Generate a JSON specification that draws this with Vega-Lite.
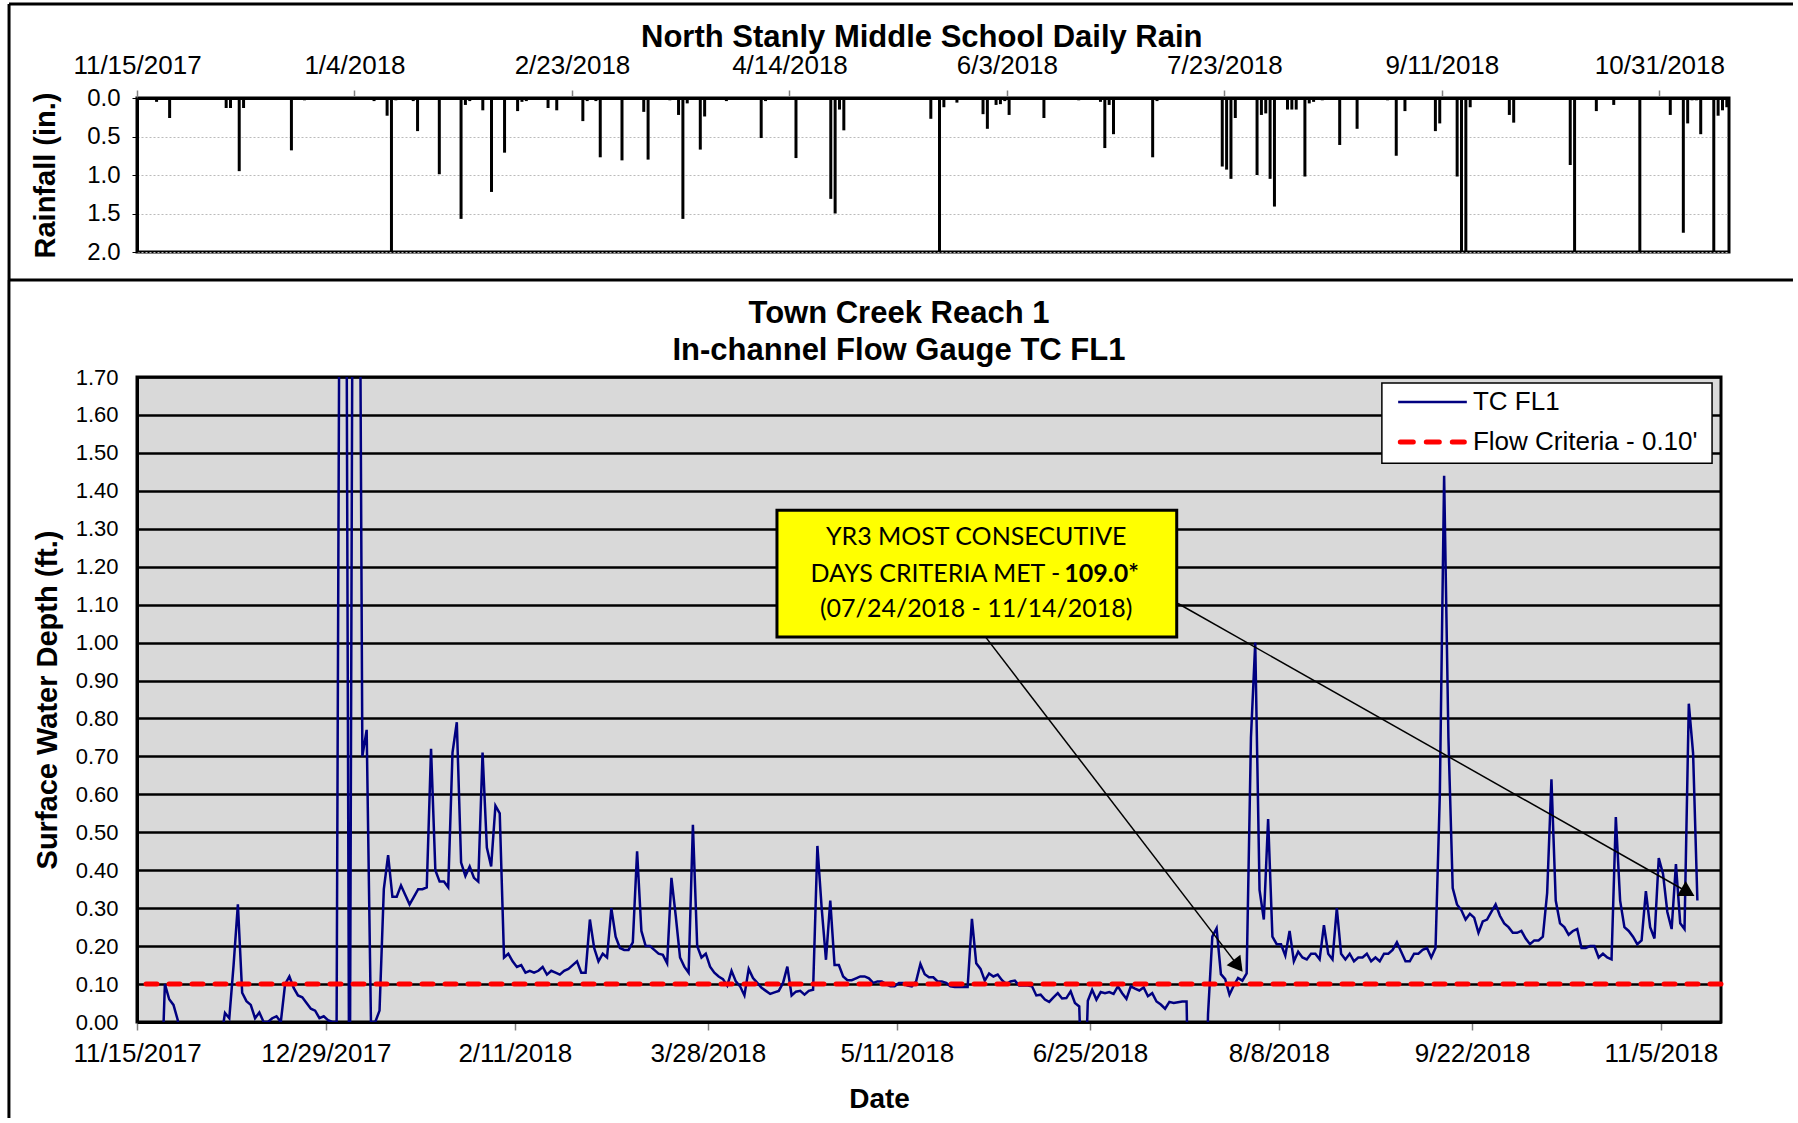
{
  "$schema": "https://vega.github.io/schema/vega-lite/v6.json",
  "background": "white",
  "padding": {"left": 5, "top": 0, "right": 0, "bottom": 0},
  "bounds": "flush",
  "spacing": 125,
  "config": {
    "font": "Liberation Sans",
    "axis": {"labelColor": "black", "titleColor": "black", "labelFont": "Liberation Sans", "titleFont": "Liberation Sans", "labelFlush": false, "labelOverlap": false}
  },
  "vconcat": [
    {
      "width": 1592,
      "height": 154,
      "view": {"fill": "white", "stroke": "black", "strokeWidth": 3},
      "resolve": {"axis": {"y": "independent"}},
      "layer": [
        {
          "data": {
            "format": {"parse": {"d": "date:'%Y-%m-%d'"}},
            "values": [
              {"d": "2017-11-19", "r": 0.05}, {"d": "2017-11-22", "r": 0.26}, {"d": "2017-12-05", "r": 0.13}, {"d": "2017-12-06", "r": 0.13},
              {"d": "2017-12-08", "r": 0.95}, {"d": "2017-12-09", "r": 0.13}, {"d": "2017-12-20", "r": 0.68}, {"d": "2017-12-23", "r": 0.03},
              {"d": "2018-01-08", "r": 0.04}, {"d": "2018-01-11", "r": 0.23}, {"d": "2018-01-12", "r": 2.3}, {"d": "2018-01-13", "r": 0.03},
              {"d": "2018-01-17", "r": 0.04}, {"d": "2018-01-18", "r": 0.43}, {"d": "2018-01-23", "r": 0.99}, {"d": "2018-01-28", "r": 1.57},
              {"d": "2018-01-29", "r": 0.09}, {"d": "2018-01-30", "r": 0.04}, {"d": "2018-02-02", "r": 0.16}, {"d": "2018-02-04", "r": 1.22},
              {"d": "2018-02-07", "r": 0.71}, {"d": "2018-02-10", "r": 0.17}, {"d": "2018-02-11", "r": 0.05}, {"d": "2018-02-12", "r": 0.04},
              {"d": "2018-02-17", "r": 0.13}, {"d": "2018-02-19", "r": 0.16}, {"d": "2018-02-25", "r": 0.30}, {"d": "2018-02-26", "r": 0.04},
              {"d": "2018-02-28", "r": 0.04}, {"d": "2018-03-01", "r": 0.77}, {"d": "2018-03-06", "r": 0.81}, {"d": "2018-03-11", "r": 0.18},
              {"d": "2018-03-12", "r": 0.80}, {"d": "2018-03-17", "r": 0.03}, {"d": "2018-03-19", "r": 0.22}, {"d": "2018-03-20", "r": 1.57},
              {"d": "2018-03-21", "r": 0.07}, {"d": "2018-03-24", "r": 0.67}, {"d": "2018-03-25", "r": 0.24}, {"d": "2018-03-30", "r": 0.04},
              {"d": "2018-04-07", "r": 0.52}, {"d": "2018-04-08", "r": 0.04}, {"d": "2018-04-15", "r": 0.78}, {"d": "2018-04-23", "r": 1.31},
              {"d": "2018-04-24", "r": 1.50}, {"d": "2018-04-25", "r": 0.15}, {"d": "2018-04-26", "r": 0.42}, {"d": "2018-05-11", "r": 0.02},
              {"d": "2018-05-16", "r": 0.27}, {"d": "2018-05-18", "r": 2.3}, {"d": "2018-05-19", "r": 0.12}, {"d": "2018-05-22", "r": 0.06},
              {"d": "2018-05-28", "r": 0.21}, {"d": "2018-05-29", "r": 0.40}, {"d": "2018-05-31", "r": 0.09}, {"d": "2018-06-01", "r": 0.08},
              {"d": "2018-06-02", "r": 0.04}, {"d": "2018-06-03", "r": 0.22}, {"d": "2018-06-11", "r": 0.26}, {"d": "2018-06-14", "r": 0.02},
              {"d": "2018-06-18", "r": 0.02}, {"d": "2018-06-19", "r": 0.03}, {"d": "2018-06-24", "r": 0.05}, {"d": "2018-06-25", "r": 0.65},
              {"d": "2018-06-26", "r": 0.09}, {"d": "2018-06-27", "r": 0.47}, {"d": "2018-07-06", "r": 0.77}, {"d": "2018-07-07", "r": 0.04},
              {"d": "2018-07-22", "r": 0.89}, {"d": "2018-07-23", "r": 0.93}, {"d": "2018-07-24", "r": 1.05}, {"d": "2018-07-25", "r": 0.26},
              {"d": "2018-07-30", "r": 1.0}, {"d": "2018-07-31", "r": 0.22}, {"d": "2018-08-01", "r": 0.20}, {"d": "2018-08-02", "r": 1.05},
              {"d": "2018-08-03", "r": 1.41}, {"d": "2018-08-04", "r": 0.02}, {"d": "2018-08-06", "r": 0.15}, {"d": "2018-08-07", "r": 0.15},
              {"d": "2018-08-08", "r": 0.15}, {"d": "2018-08-10", "r": 1.02}, {"d": "2018-08-11", "r": 0.07}, {"d": "2018-08-12", "r": 0.05},
              {"d": "2018-08-14", "r": 0.03}, {"d": "2018-08-18", "r": 0.61}, {"d": "2018-08-21", "r": 0.02}, {"d": "2018-08-22", "r": 0.40},
              {"d": "2018-08-29", "r": 0.03}, {"d": "2018-08-31", "r": 0.75}, {"d": "2018-09-02", "r": 0.17}, {"d": "2018-09-09", "r": 0.43},
              {"d": "2018-09-10", "r": 0.33}, {"d": "2018-09-14", "r": 1.02}, {"d": "2018-09-15", "r": 2.3}, {"d": "2018-09-16", "r": 2.3},
              {"d": "2018-09-17", "r": 0.12}, {"d": "2018-09-26", "r": 0.22}, {"d": "2018-09-27", "r": 0.32}, {"d": "2018-10-10", "r": 0.87},
              {"d": "2018-10-11", "r": 2.3}, {"d": "2018-10-16", "r": 0.17}, {"d": "2018-10-20", "r": 0.09}, {"d": "2018-10-26", "r": 2.3},
              {"d": "2018-11-02", "r": 0.22}, {"d": "2018-11-05", "r": 1.75}, {"d": "2018-11-06", "r": 0.33}, {"d": "2018-11-07", "r": 0.03},
              {"d": "2018-11-08", "r": 0.03}, {"d": "2018-11-09", "r": 0.47}, {"d": "2018-11-12", "r": 2.3}, {"d": "2018-11-13", "r": 0.23},
              {"d": "2018-11-14", "r": 0.16}, {"d": "2018-11-15", "r": 0.12}
            ]
          },
          "mark": {"type": "rule", "color": "black", "strokeWidth": 3, "clip": true},
          "encoding": {
            "x": {
              "field": "d", "type": "temporal", "timeUnit": "yearmonthdate", "bandPosition": 0.5,
              "scale": {"domain": [{"year": 2017, "month": 11, "date": 15}, {"year": 2018, "month": 11, "date": 16}], "nice": false},
              "axis": {
                "orient": "top", "title": null, "format": "%-m/%-d/%Y", "formatType": "time",
                "values": [{"year": 2017, "month": 11, "date": 15}, {"year": 2018, "month": 1, "date": 4}, {"year": 2018, "month": 2, "date": 23}, {"year": 2018, "month": 4, "date": 14}, {"year": 2018, "month": 6, "date": 3}, {"year": 2018, "month": 7, "date": 23}, {"year": 2018, "month": 9, "date": 11}, {"year": 2018, "month": 10, "date": 31}],
                "tickCount": 20,
                "labelFontSize": 26, "labelPadding": 12, "tickSize": 8, "tickColor": "#808080", "tickWidth": 1.5,
                "domainColor": "black", "domainWidth": 3, "grid": false
              }
            },
            "y": {
              "field": "r", "type": "quantitative",
              "scale": {"domain": [0, 2], "reverse": true, "nice": false, "zero": false},
              "axis": {
                "title": "Rainfall (in.)", "titleFontSize": 29, "titleFontWeight": "bold", "titleX": -92, "titleBaseline": "middle",
                "values": [0, 0.5, 1, 1.5, 2], "tickCount": 10, "format": ".1f", "labelFontSize": 24, "labelPadding": 12,
                "tickSize": 5, "tickColor": "black", "domainColor": "black", "domainWidth": 3,
                "grid": true, "gridColor": "#BBBBBB", "gridDash": [2, 2], "gridWidth": 1
              }
            },
            "y2": {"datum": 0}
          }
        },
        {
          "data": {"values": [{}]},
          "mark": {"type": "text", "font": "Liberation Sans", "fontSize": 31, "fontWeight": "bold", "align": "center", "baseline": "middle", "color": "black"},
          "encoding": {
            "x": {"datum": {"year": 2018, "month": 5, "date": 14, "hours": 10}, "type": "temporal"},
            "y": {"datum": -0.783, "type": "quantitative", "axis": null},
            "text": {"value": "North Stanly Middle School Daily Rain"}
          }
        },
        {
          "data": {"values": [{}]},
          "mark": {"type": "rule", "color": "black", "strokeWidth": 3},
          "encoding": {
            "x": {"datum": {"year": 2017, "month": 10, "date": 16, "hours": 14}, "type": "temporal"},
            "x2": {"datum": {"year": 2018, "month": 11, "date": 30, "hours": 17}},
            "y": {"datum": -1.2208, "type": "quantitative", "axis": null}
          }
        },
        {
          "data": {"values": [{}]},
          "mark": {"type": "rule", "color": "black", "strokeWidth": 3},
          "encoding": {
            "x": {"datum": {"year": 2017, "month": 10, "date": 16, "hours": 14}, "type": "temporal"},
            "x2": {"datum": {"year": 2018, "month": 11, "date": 30, "hours": 17}},
            "y": {"datum": 2.3636, "type": "quantitative", "axis": null}
          }
        },
        {
          "data": {"values": [{}]},
          "mark": {"type": "rule", "color": "black", "strokeWidth": 3},
          "encoding": {
            "x": {"datum": {"year": 2017, "month": 10, "date": 16, "hours": 14}, "type": "temporal"},
            "y": {"datum": -1.2208, "type": "quantitative", "axis": null},
            "y2": {"datum": 2.3636}
          }
        }
      ]
    },
    {
      "width": 1584,
      "height": 645,
      "view": {"fill": "#D9D9D9", "stroke": "black", "strokeWidth": 3},
      "resolve": {"axis": {"y": "independent"}},
      "layer": [
        {
          "data": {
            "format": {"parse": {"d": "date:'%Y-%m-%d'"}},
            "values": [
              {"d": "2017-11-15", "v": -0.3}, {"d": "2017-11-16", "v": -0.3}, {"d": "2017-11-17", "v": -0.3}, {"d": "2017-11-18", "v": -0.3},
              {"d": "2017-11-19", "v": -0.3}, {"d": "2017-11-20", "v": -0.23}, {"d": "2017-11-21", "v": 0.10}, {"d": "2017-11-22", "v": 0.06},
              {"d": "2017-11-23", "v": 0.045}, {"d": "2017-11-24", "v": 0.005}, {"d": "2017-11-25", "v": -0.3}, {"d": "2017-11-26", "v": -0.3},
              {"d": "2017-11-27", "v": -0.3}, {"d": "2017-11-28", "v": -0.3}, {"d": "2017-11-29", "v": -0.3}, {"d": "2017-11-30", "v": -0.3},
              {"d": "2017-12-01", "v": -0.3}, {"d": "2017-12-02", "v": -0.3}, {"d": "2017-12-03", "v": -0.3}, {"d": "2017-12-04", "v": -0.05},
              {"d": "2017-12-05", "v": 0.024}, {"d": "2017-12-06", "v": 0.01}, {"d": "2017-12-07", "v": 0.15}, {"d": "2017-12-08", "v": 0.31},
              {"d": "2017-12-09", "v": 0.077}, {"d": "2017-12-10", "v": 0.055}, {"d": "2017-12-11", "v": 0.045}, {"d": "2017-12-12", "v": 0.01},
              {"d": "2017-12-13", "v": 0.025}, {"d": "2017-12-14", "v": 0.0}, {"d": "2017-12-15", "v": 0.0}, {"d": "2017-12-16", "v": 0.01},
              {"d": "2017-12-17", "v": 0.015}, {"d": "2017-12-18", "v": 0.0}, {"d": "2017-12-19", "v": 0.10}, {"d": "2017-12-20", "v": 0.12},
              {"d": "2017-12-21", "v": 0.09}, {"d": "2017-12-22", "v": 0.07}, {"d": "2017-12-23", "v": 0.065}, {"d": "2017-12-24", "v": 0.05},
              {"d": "2017-12-25", "v": 0.035}, {"d": "2017-12-26", "v": 0.03}, {"d": "2017-12-27", "v": 0.01}, {"d": "2017-12-28", "v": 0.015},
              {"d": "2017-12-29", "v": 0.005}, {"d": "2017-12-30", "v": 0.0}, {"d": "2017-12-31", "v": 0.0},
              {"d": "2018-01-01", "v": 3.0}, {"d": "2018-01-02", "v": 3.0}, {"d": "2018-01-03", "v": -0.5}, {"d": "2018-01-04", "v": 3.0},
              {"d": "2018-01-05", "v": 3.0}, {"d": "2018-01-06", "v": 0.70}, {"d": "2018-01-07", "v": 0.77}, {"d": "2018-01-08", "v": 0.0},
              {"d": "2018-01-09", "v": 0.0}, {"d": "2018-01-10", "v": 0.03}, {"d": "2018-01-11", "v": 0.35}, {"d": "2018-01-12", "v": 0.44},
              {"d": "2018-01-13", "v": 0.33}, {"d": "2018-01-14", "v": 0.33}, {"d": "2018-01-15", "v": 0.36}, {"d": "2018-01-16", "v": 0.335},
              {"d": "2018-01-17", "v": 0.31}, {"d": "2018-01-18", "v": 0.33}, {"d": "2018-01-19", "v": 0.35}, {"d": "2018-01-20", "v": 0.35},
              {"d": "2018-01-21", "v": 0.355}, {"d": "2018-01-22", "v": 0.72}, {"d": "2018-01-23", "v": 0.40}, {"d": "2018-01-24", "v": 0.37},
              {"d": "2018-01-25", "v": 0.37}, {"d": "2018-01-26", "v": 0.355}, {"d": "2018-01-27", "v": 0.71}, {"d": "2018-01-28", "v": 0.79},
              {"d": "2018-01-29", "v": 0.42}, {"d": "2018-01-30", "v": 0.385}, {"d": "2018-01-31", "v": 0.41},
              {"d": "2018-02-01", "v": 0.38}, {"d": "2018-02-02", "v": 0.37}, {"d": "2018-02-03", "v": 0.71}, {"d": "2018-02-04", "v": 0.46},
              {"d": "2018-02-05", "v": 0.41}, {"d": "2018-02-06", "v": 0.57}, {"d": "2018-02-07", "v": 0.55}, {"d": "2018-02-08", "v": 0.17},
              {"d": "2018-02-09", "v": 0.18}, {"d": "2018-02-10", "v": 0.16}, {"d": "2018-02-11", "v": 0.145}, {"d": "2018-02-12", "v": 0.15},
              {"d": "2018-02-13", "v": 0.13}, {"d": "2018-02-14", "v": 0.135}, {"d": "2018-02-15", "v": 0.13}, {"d": "2018-02-16", "v": 0.135},
              {"d": "2018-02-17", "v": 0.145}, {"d": "2018-02-18", "v": 0.125}, {"d": "2018-02-19", "v": 0.135}, {"d": "2018-02-20", "v": 0.13},
              {"d": "2018-02-21", "v": 0.125}, {"d": "2018-02-22", "v": 0.135}, {"d": "2018-02-23", "v": 0.14}, {"d": "2018-02-24", "v": 0.15},
              {"d": "2018-02-25", "v": 0.16}, {"d": "2018-02-26", "v": 0.13}, {"d": "2018-02-27", "v": 0.13}, {"d": "2018-02-28", "v": 0.27},
              {"d": "2018-03-01", "v": 0.195}, {"d": "2018-03-02", "v": 0.16}, {"d": "2018-03-03", "v": 0.18}, {"d": "2018-03-04", "v": 0.17},
              {"d": "2018-03-05", "v": 0.30}, {"d": "2018-03-06", "v": 0.225}, {"d": "2018-03-07", "v": 0.195}, {"d": "2018-03-08", "v": 0.19},
              {"d": "2018-03-09", "v": 0.19}, {"d": "2018-03-10", "v": 0.21}, {"d": "2018-03-11", "v": 0.45}, {"d": "2018-03-12", "v": 0.24},
              {"d": "2018-03-13", "v": 0.20}, {"d": "2018-03-14", "v": 0.20}, {"d": "2018-03-15", "v": 0.19}, {"d": "2018-03-16", "v": 0.18},
              {"d": "2018-03-17", "v": 0.177}, {"d": "2018-03-18", "v": 0.155}, {"d": "2018-03-19", "v": 0.38}, {"d": "2018-03-20", "v": 0.28},
              {"d": "2018-03-21", "v": 0.17}, {"d": "2018-03-22", "v": 0.146}, {"d": "2018-03-23", "v": 0.13}, {"d": "2018-03-24", "v": 0.52},
              {"d": "2018-03-25", "v": 0.20}, {"d": "2018-03-26", "v": 0.17}, {"d": "2018-03-27", "v": 0.18}, {"d": "2018-03-28", "v": 0.146},
              {"d": "2018-03-29", "v": 0.13}, {"d": "2018-03-30", "v": 0.12}, {"d": "2018-03-31", "v": 0.113},
              {"d": "2018-04-01", "v": 0.096}, {"d": "2018-04-02", "v": 0.135}, {"d": "2018-04-03", "v": 0.107}, {"d": "2018-04-04", "v": 0.094},
              {"d": "2018-04-05", "v": 0.07}, {"d": "2018-04-06", "v": 0.14}, {"d": "2018-04-07", "v": 0.116}, {"d": "2018-04-08", "v": 0.103},
              {"d": "2018-04-09", "v": 0.09}, {"d": "2018-04-10", "v": 0.082}, {"d": "2018-04-11", "v": 0.074}, {"d": "2018-04-12", "v": 0.078},
              {"d": "2018-04-13", "v": 0.082}, {"d": "2018-04-14", "v": 0.103}, {"d": "2018-04-15", "v": 0.146}, {"d": "2018-04-16", "v": 0.07},
              {"d": "2018-04-17", "v": 0.08}, {"d": "2018-04-18", "v": 0.082}, {"d": "2018-04-19", "v": 0.072}, {"d": "2018-04-20", "v": 0.082},
              {"d": "2018-04-21", "v": 0.085}, {"d": "2018-04-22", "v": 0.464}, {"d": "2018-04-23", "v": 0.30}, {"d": "2018-04-24", "v": 0.164},
              {"d": "2018-04-25", "v": 0.32}, {"d": "2018-04-26", "v": 0.15}, {"d": "2018-04-27", "v": 0.15}, {"d": "2018-04-28", "v": 0.12},
              {"d": "2018-04-29", "v": 0.11}, {"d": "2018-04-30", "v": 0.11},
              {"d": "2018-05-01", "v": 0.115}, {"d": "2018-05-02", "v": 0.12}, {"d": "2018-05-03", "v": 0.12}, {"d": "2018-05-04", "v": 0.115},
              {"d": "2018-05-05", "v": 0.103}, {"d": "2018-05-06", "v": 0.107}, {"d": "2018-05-07", "v": 0.107}, {"d": "2018-05-08", "v": 0.10},
              {"d": "2018-05-09", "v": 0.094}, {"d": "2018-05-10", "v": 0.094}, {"d": "2018-05-11", "v": 0.103}, {"d": "2018-05-12", "v": 0.103},
              {"d": "2018-05-13", "v": 0.096}, {"d": "2018-05-14", "v": 0.094}, {"d": "2018-05-15", "v": 0.107}, {"d": "2018-05-16", "v": 0.153},
              {"d": "2018-05-17", "v": 0.126}, {"d": "2018-05-18", "v": 0.118}, {"d": "2018-05-19", "v": 0.118}, {"d": "2018-05-20", "v": 0.107},
              {"d": "2018-05-21", "v": 0.107}, {"d": "2018-05-22", "v": 0.103}, {"d": "2018-05-23", "v": 0.094}, {"d": "2018-05-24", "v": 0.092},
              {"d": "2018-05-25", "v": 0.092}, {"d": "2018-05-26", "v": 0.092}, {"d": "2018-05-27", "v": 0.092}, {"d": "2018-05-28", "v": 0.272},
              {"d": "2018-05-29", "v": 0.155}, {"d": "2018-05-30", "v": 0.14}, {"d": "2018-05-31", "v": 0.109},
              {"d": "2018-06-01", "v": 0.128}, {"d": "2018-06-02", "v": 0.12}, {"d": "2018-06-03", "v": 0.125}, {"d": "2018-06-04", "v": 0.11},
              {"d": "2018-06-05", "v": 0.10}, {"d": "2018-06-06", "v": 0.107}, {"d": "2018-06-07", "v": 0.109}, {"d": "2018-06-08", "v": 0.096},
              {"d": "2018-06-09", "v": 0.096}, {"d": "2018-06-10", "v": 0.096}, {"d": "2018-06-11", "v": 0.094}, {"d": "2018-06-12", "v": 0.07},
              {"d": "2018-06-13", "v": 0.072}, {"d": "2018-06-14", "v": 0.059}, {"d": "2018-06-15", "v": 0.053}, {"d": "2018-06-16", "v": 0.065},
              {"d": "2018-06-17", "v": 0.076}, {"d": "2018-06-18", "v": 0.062}, {"d": "2018-06-19", "v": 0.063}, {"d": "2018-06-20", "v": 0.081},
              {"d": "2018-06-21", "v": 0.05}, {"d": "2018-06-22", "v": 0.041}, {"d": "2018-06-23", "v": -0.3}, {"d": "2018-06-24", "v": 0.056},
              {"d": "2018-06-25", "v": 0.085}, {"d": "2018-06-26", "v": 0.059}, {"d": "2018-06-27", "v": 0.079}, {"d": "2018-06-28", "v": 0.076},
              {"d": "2018-06-29", "v": 0.079}, {"d": "2018-06-30", "v": 0.074},
              {"d": "2018-07-01", "v": 0.094}, {"d": "2018-07-02", "v": 0.076}, {"d": "2018-07-03", "v": 0.061}, {"d": "2018-07-04", "v": 0.094},
              {"d": "2018-07-05", "v": 0.088}, {"d": "2018-07-06", "v": 0.083}, {"d": "2018-07-07", "v": 0.091}, {"d": "2018-07-08", "v": 0.068},
              {"d": "2018-07-09", "v": 0.076}, {"d": "2018-07-10", "v": 0.054}, {"d": "2018-07-11", "v": 0.046}, {"d": "2018-07-12", "v": 0.035},
              {"d": "2018-07-13", "v": 0.053}, {"d": "2018-07-14", "v": 0.05}, {"d": "2018-07-15", "v": 0.052}, {"d": "2018-07-16", "v": 0.054},
              {"d": "2018-07-17", "v": 0.054}, {"d": "2018-07-18", "v": -0.5}, {"d": "2018-07-19", "v": -0.5}, {"d": "2018-07-20", "v": -0.5},
              {"d": "2018-07-21", "v": -0.5}, {"d": "2018-07-22", "v": 0.02}, {"d": "2018-07-23", "v": 0.225}, {"d": "2018-07-24", "v": 0.247},
              {"d": "2018-07-25", "v": 0.126}, {"d": "2018-07-26", "v": 0.113}, {"d": "2018-07-27", "v": 0.072}, {"d": "2018-07-28", "v": 0.096},
              {"d": "2018-07-29", "v": 0.116}, {"d": "2018-07-30", "v": 0.109}, {"d": "2018-07-31", "v": 0.128},
              {"d": "2018-08-01", "v": 0.75}, {"d": "2018-08-02", "v": 1.0}, {"d": "2018-08-03", "v": 0.348}, {"d": "2018-08-04", "v": 0.27},
              {"d": "2018-08-05", "v": 0.535}, {"d": "2018-08-06", "v": 0.225}, {"d": "2018-08-07", "v": 0.205}, {"d": "2018-08-08", "v": 0.205},
              {"d": "2018-08-09", "v": 0.175}, {"d": "2018-08-10", "v": 0.24}, {"d": "2018-08-11", "v": 0.16}, {"d": "2018-08-12", "v": 0.185},
              {"d": "2018-08-13", "v": 0.17}, {"d": "2018-08-14", "v": 0.165}, {"d": "2018-08-15", "v": 0.18}, {"d": "2018-08-16", "v": 0.18},
              {"d": "2018-08-17", "v": 0.165}, {"d": "2018-08-18", "v": 0.255}, {"d": "2018-08-19", "v": 0.18}, {"d": "2018-08-20", "v": 0.165},
              {"d": "2018-08-21", "v": 0.30}, {"d": "2018-08-22", "v": 0.18}, {"d": "2018-08-23", "v": 0.165}, {"d": "2018-08-24", "v": 0.18},
              {"d": "2018-08-25", "v": 0.16}, {"d": "2018-08-26", "v": 0.17}, {"d": "2018-08-27", "v": 0.17}, {"d": "2018-08-28", "v": 0.18},
              {"d": "2018-08-29", "v": 0.16}, {"d": "2018-08-30", "v": 0.17}, {"d": "2018-08-31", "v": 0.16},
              {"d": "2018-09-01", "v": 0.18}, {"d": "2018-09-02", "v": 0.18}, {"d": "2018-09-03", "v": 0.19}, {"d": "2018-09-04", "v": 0.21},
              {"d": "2018-09-05", "v": 0.185}, {"d": "2018-09-06", "v": 0.16}, {"d": "2018-09-07", "v": 0.16}, {"d": "2018-09-08", "v": 0.18},
              {"d": "2018-09-09", "v": 0.18}, {"d": "2018-09-10", "v": 0.19}, {"d": "2018-09-11", "v": 0.195}, {"d": "2018-09-12", "v": 0.17},
              {"d": "2018-09-13", "v": 0.195}, {"d": "2018-09-14", "v": 0.6}, {"d": "2018-09-15", "v": 1.44}, {"d": "2018-09-16", "v": 0.75},
              {"d": "2018-09-17", "v": 0.353}, {"d": "2018-09-18", "v": 0.31}, {"d": "2018-09-19", "v": 0.295}, {"d": "2018-09-20", "v": 0.27},
              {"d": "2018-09-21", "v": 0.285}, {"d": "2018-09-22", "v": 0.275}, {"d": "2018-09-23", "v": 0.235}, {"d": "2018-09-24", "v": 0.265},
              {"d": "2018-09-25", "v": 0.27}, {"d": "2018-09-26", "v": 0.29}, {"d": "2018-09-27", "v": 0.31}, {"d": "2018-09-28", "v": 0.28},
              {"d": "2018-09-29", "v": 0.26}, {"d": "2018-09-30", "v": 0.25},
              {"d": "2018-10-01", "v": 0.235}, {"d": "2018-10-02", "v": 0.235}, {"d": "2018-10-03", "v": 0.24}, {"d": "2018-10-04", "v": 0.22},
              {"d": "2018-10-05", "v": 0.205}, {"d": "2018-10-06", "v": 0.215}, {"d": "2018-10-07", "v": 0.215}, {"d": "2018-10-08", "v": 0.225},
              {"d": "2018-10-09", "v": 0.34}, {"d": "2018-10-10", "v": 0.64}, {"d": "2018-10-11", "v": 0.32}, {"d": "2018-10-12", "v": 0.26},
              {"d": "2018-10-13", "v": 0.25}, {"d": "2018-10-14", "v": 0.23}, {"d": "2018-10-15", "v": 0.24}, {"d": "2018-10-16", "v": 0.245},
              {"d": "2018-10-17", "v": 0.195}, {"d": "2018-10-18", "v": 0.195}, {"d": "2018-10-19", "v": 0.2}, {"d": "2018-10-20", "v": 0.2},
              {"d": "2018-10-21", "v": 0.17}, {"d": "2018-10-22", "v": 0.18}, {"d": "2018-10-23", "v": 0.17}, {"d": "2018-10-24", "v": 0.165},
              {"d": "2018-10-25", "v": 0.54}, {"d": "2018-10-26", "v": 0.32}, {"d": "2018-10-27", "v": 0.25}, {"d": "2018-10-28", "v": 0.24},
              {"d": "2018-10-29", "v": 0.225}, {"d": "2018-10-30", "v": 0.205}, {"d": "2018-10-31", "v": 0.215},
              {"d": "2018-11-01", "v": 0.345}, {"d": "2018-11-02", "v": 0.25}, {"d": "2018-11-03", "v": 0.22}, {"d": "2018-11-04", "v": 0.432},
              {"d": "2018-11-05", "v": 0.39}, {"d": "2018-11-06", "v": 0.29}, {"d": "2018-11-07", "v": 0.245}, {"d": "2018-11-08", "v": 0.416},
              {"d": "2018-11-09", "v": 0.26}, {"d": "2018-11-10", "v": 0.245}, {"d": "2018-11-11", "v": 0.839}, {"d": "2018-11-12", "v": 0.708},
              {"d": "2018-11-13", "v": 0.32}
            ]
          },
          "mark": {"type": "line", "color": "#000080", "strokeWidth": 2.5, "clip": true},
          "encoding": {
            "x": {
              "field": "d", "type": "temporal", "timeUnit": "yearmonthdate", "bandPosition": 0.5,
              "scale": {"domain": [{"year": 2017, "month": 11, "date": 15}, {"year": 2018, "month": 11, "date": 19}], "nice": false},
              "axis": {
                "title": "Date", "titleFontSize": 28, "titleFontWeight": "bold", "titlePadding": 19, "titleX": 742,
                "format": "%-m/%-d/%Y", "formatType": "time",
                "values": [{"year": 2017, "month": 11, "date": 15}, {"year": 2017, "month": 12, "date": 29}, {"year": 2018, "month": 2, "date": 11}, {"year": 2018, "month": 3, "date": 28}, {"year": 2018, "month": 5, "date": 11}, {"year": 2018, "month": 6, "date": 25}, {"year": 2018, "month": 8, "date": 8}, {"year": 2018, "month": 9, "date": 22}, {"year": 2018, "month": 11, "date": 5}],
                "tickCount": 20,
                "labelFontSize": 26, "labelPadding": 10, "tickSize": 8, "tickColor": "#808080", "tickWidth": 1.5,
                "domainColor": "black", "domainWidth": 3, "grid": false
              }
            },
            "y": {
              "field": "v", "type": "quantitative",
              "scale": {"domain": [0, 1.7], "nice": false, "zero": false},
              "axis": {
                "title": "Surface Water Depth (ft.)", "titleFontSize": 29, "titleFontWeight": "bold", "titleX": -90, "titleBaseline": "middle",
                "values": [0, 0.1, 0.2, 0.3, 0.4, 0.5, 0.6, 0.7, 0.8, 0.9, 1.0, 1.1, 1.2, 1.3, 1.4, 1.5, 1.6, 1.7],
                "tickCount": 30,
                "format": ".2f", "labelFontSize": 22, "labelPadding": 19, "ticks": false,
                "domainColor": "black", "domainWidth": 3,
                "grid": true, "gridColor": "black", "gridWidth": 2.5
              }
            }
          }
        },
        {
          "data": {"values": [{}]},
          "mark": {"type": "rule", "color": "#FF0000", "strokeWidth": 5, "strokeDash": [11, 12], "strokeCap": "round"},
          "encoding": {"y": {"datum": 0.1, "type": "quantitative", "axis": null}}
        },
        {
          "data": {"values": [{}]},
          "mark": {"type": "text", "font": "Liberation Sans", "fontSize": 31, "fontWeight": "bold", "align": "center", "baseline": "middle", "color": "black"},
          "encoding": {
            "x": {"datum": {"year": 2018, "month": 5, "date": 11, "hours": 12}, "type": "temporal"},
            "y": {"datum": 1.866, "type": "quantitative", "axis": null},
            "text": {"value": "Town Creek Reach 1"}
          }
        },
        {
          "data": {"values": [{}]},
          "mark": {"type": "text", "font": "Liberation Sans", "fontSize": 31, "fontWeight": "bold", "align": "center", "baseline": "middle", "color": "black"},
          "encoding": {
            "x": {"datum": {"year": 2018, "month": 5, "date": 11, "hours": 12}, "type": "temporal"},
            "y": {"datum": 1.769, "type": "quantitative", "axis": null},
            "text": {"value": "In-channel Flow Gauge TC FL1"}
          }
        },
        {
          "data": {"values": [{}]},
          "mark": {"type": "rule", "color": "black", "strokeWidth": 3},
          "encoding": {
            "x": {"datum": {"year": 2017, "month": 10, "date": 16, "hours": 4}, "type": "temporal"},
            "y": {"datum": 1.9557, "type": "quantitative", "axis": null},
            "y2": {"datum": -0.253}
          }
        },
        {
          "data": {"values": [{}]},
          "mark": {"type": "rule", "color": "black", "strokeWidth": 1.5},
          "encoding": {
            "x": {"datum": {"year": 2018, "month": 5, "date": 31, "hours": 19}, "type": "temporal"},
            "y": {"datum": 1.013, "type": "quantitative", "axis": null},
            "x2": {"datum": {"year": 2018, "month": 7, "date": 29, "hours": 12}},
            "y2": {"datum": 0.148}
          }
        },
        {
          "data": {"values": [{}]},
          "mark": {"type": "rule", "color": "black", "strokeWidth": 1.5},
          "encoding": {
            "x": {"datum": {"year": 2018, "month": 7, "date": 15, "hours": 12}, "type": "temporal"},
            "y": {"datum": 1.103, "type": "quantitative", "axis": null},
            "x2": {"datum": {"year": 2018, "month": 11, "date": 11, "hours": 7}},
            "y2": {"datum": 0.342}
          }
        },
        {
          "data": {"values": [{}]},
          "mark": {"type": "point", "shape": "triangle-up", "filled": true, "color": "black", "size": 300, "angle": 142.5, "opacity": 1},
          "encoding": {
            "x": {"datum": {"year": 2018, "month": 7, "date": 29, "hours": 12}, "type": "temporal"},
            "y": {"datum": 0.148, "type": "quantitative", "axis": null}
          }
        },
        {
          "data": {"values": [{}]},
          "mark": {"type": "point", "shape": "triangle-up", "filled": true, "color": "black", "size": 300, "angle": 119.6, "opacity": 1},
          "encoding": {
            "x": {"datum": {"year": 2018, "month": 11, "date": 11, "hours": 7}, "type": "temporal"},
            "y": {"datum": 0.342, "type": "quantitative", "axis": null}
          }
        },
        {
          "data": {"values": [{}]},
          "mark": {"type": "rect", "fill": "#FFFF00", "stroke": "black", "strokeWidth": 3},
          "encoding": {
            "x": {"datum": {"year": 2018, "month": 4, "date": 13, "hours": 2}, "type": "temporal"},
            "x2": {"datum": {"year": 2018, "month": 7, "date": 15, "hours": 5}},
            "y": {"datum": 1.349, "type": "quantitative", "axis": null},
            "y2": {"datum": 1.015}
          }
        },
        {
          "data": {"values": [{}]},
          "mark": {"type": "text", "font": "Lato", "fontSize": 25, "align": "center", "baseline": "middle", "color": "black"},
          "encoding": {
            "x": {"datum": {"year": 2018, "month": 5, "date": 29, "hours": 12}, "type": "temporal"},
            "y": {"datum": 1.277, "type": "quantitative", "axis": null},
            "text": {"value": "YR3 MOST CONSECUTIVE"}
          }
        },
        {
          "data": {"values": [{}]},
          "mark": {"type": "text", "font": "Lato", "fontSize": 25, "align": "right", "baseline": "middle", "color": "black"},
          "encoding": {
            "x": {"datum": {"year": 2018, "month": 6, "date": 18, "hours": 2}, "type": "temporal"},
            "y": {"datum": 1.182, "type": "quantitative", "axis": null},
            "text": {"value": "DAYS CRITERIA MET -"}
          }
        },
        {
          "data": {"values": [{}]},
          "mark": {"type": "text", "font": "Lato", "fontSize": 25, "fontWeight": "bold", "align": "left", "baseline": "middle", "color": "black"},
          "encoding": {
            "x": {"datum": {"year": 2018, "month": 6, "date": 19, "hours": 0}, "type": "temporal"},
            "y": {"datum": 1.182, "type": "quantitative", "axis": null},
            "text": {"value": "109.0*"}
          }
        },
        {
          "data": {"values": [{}]},
          "mark": {"type": "text", "font": "Lato", "fontSize": 25, "align": "center", "baseline": "middle", "color": "black"},
          "encoding": {
            "x": {"datum": {"year": 2018, "month": 5, "date": 29, "hours": 12}, "type": "temporal"},
            "y": {"datum": 1.088, "type": "quantitative", "axis": null},
            "text": {"value": "(07/24/2018 - 11/14/2018)"}
          }
        },
        {
          "data": {"values": [{}]},
          "mark": {"type": "rect", "fill": "white", "stroke": "black", "strokeWidth": 1.5},
          "encoding": {
            "x": {"datum": {"year": 2018, "month": 9, "date": 1, "hours": 0}, "type": "temporal"},
            "x2": {"datum": {"year": 2018, "month": 11, "date": 16, "hours": 22}},
            "y": {"datum": 1.684, "type": "quantitative", "axis": null},
            "y2": {"datum": 1.473}
          }
        },
        {
          "data": {"values": [{}]},
          "mark": {"type": "rule", "color": "#000080", "strokeWidth": 2.5},
          "encoding": {
            "x": {"datum": {"year": 2018, "month": 9, "date": 4, "hours": 19}, "type": "temporal"},
            "x2": {"datum": {"year": 2018, "month": 9, "date": 20, "hours": 19}},
            "y": {"datum": 1.634, "type": "quantitative", "axis": null}
          }
        },
        {
          "data": {"values": [{}]},
          "mark": {"type": "rule", "color": "#FF0000", "strokeWidth": 5, "strokeDash": [13, 13], "strokeCap": "round"},
          "encoding": {
            "x": {"datum": {"year": 2018, "month": 9, "date": 5, "hours": 7}, "type": "temporal"},
            "x2": {"datum": {"year": 2018, "month": 9, "date": 20, "hours": 5}},
            "y": {"datum": 1.529, "type": "quantitative", "axis": null}
          }
        },
        {
          "data": {"values": [{}]},
          "mark": {"type": "text", "font": "Liberation Sans", "fontSize": 26, "align": "left", "baseline": "middle", "color": "black"},
          "encoding": {
            "x": {"datum": {"year": 2018, "month": 9, "date": 22, "hours": 5}, "type": "temporal"},
            "y": {"datum": 1.634, "type": "quantitative", "axis": null},
            "text": {"value": "TC FL1"}
          }
        },
        {
          "data": {"values": [{}]},
          "mark": {"type": "text", "font": "Liberation Sans", "fontSize": 26, "align": "left", "baseline": "middle", "color": "black"},
          "encoding": {
            "x": {"datum": {"year": 2018, "month": 9, "date": 22, "hours": 5}, "type": "temporal"},
            "y": {"datum": 1.529, "type": "quantitative", "axis": null},
            "text": {"value": "Flow Criteria - 0.10'"}
          }
        }
      ]
    }
  ]
}
